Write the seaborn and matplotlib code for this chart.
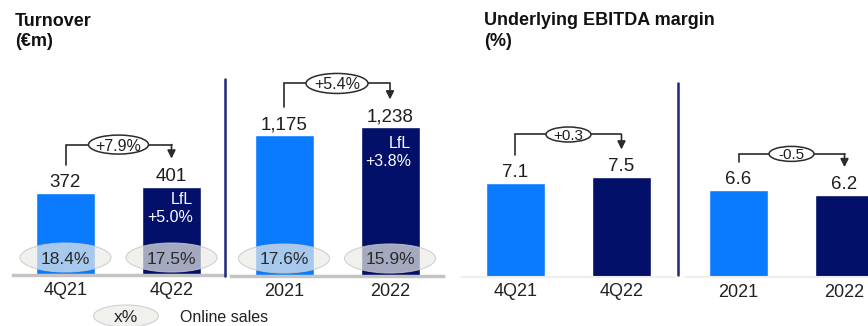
import matplotlib
matplotlib.use("Agg")
import matplotlib.pyplot as plt
import seaborn as sns
import pandas as pd
from matplotlib.patches import Ellipse
from matplotlib.lines import Line2D

# ---------------- data ----------------
quarters = ["4Q21", "4Q22"]
years = ["2021", "2022"]
turnover_q = [372, 401]
turnover_y = [1175, 1238]
online_q = ["18.4%", "17.5%"]
online_y = ["17.6%", "15.9%"]
lfl_q = "+5.0%"
lfl_y = "+3.8%"
growth_turnover_q = "+7.9%"
growth_turnover_y = "+5.4%"
ebitda_q = [7.1, 7.5]
ebitda_y = [6.6, 6.2]
change_ebitda_q = "+0.3"
change_ebitda_y = "-0.5"
legend_symbol = "x%"
legend_label = "Online sales"

LIGHT = "#0a7bff"
NAVY = "#03106a"
TXT = "#1e1e1e"

sns.set_theme(style="white")
plt.rcParams["font.family"] = ["Liberation Sans", "DejaVu Sans"]

W, H = 868, 326
fig = plt.figure(figsize=(W / 100, H / 100), dpi=100)
PX_X = 106.0  # pixels per category step


def px_axes(x0, y0, x1, y1):
    return fig.add_axes([x0 / W, 1 - y1 / H, (x1 - x0) / W, (y1 - y0) / H])


def panel(rect, cats, vals, ytop, fmt, spine_color, spine_lw,
          growth, brk_off, ell_w, ell_h, ell_fs,
          online=None, lfl=None, lfl_offs=(17, 35)):
    x0, y0, x1, y1 = rect
    ax = px_axes(*rect)
    df = pd.DataFrame({"cat": cats, "val": vals})
    sns.barplot(data=df, x="cat", y="val", hue="cat", palette=[LIGHT, NAVY],
                width=59 / PX_X, errorbar=None, legend=False, saturation=1,
                ax=ax, zorder=2)
    ax.set_xlim(-0.5, 1.5)
    ax.set_ylim(0, ytop)
    ppu = (y1 - y0) / ytop
    ax.set_xlabel("")
    ax.set_ylabel("")
    ax.set_yticks([])
    ax.tick_params(axis="x", length=0, labelsize=13, pad=5, labelcolor="#222222")
    for s in ("left", "top", "right"):
        ax.spines[s].set_visible(False)
    ax.spines["bottom"].set_color(spine_color)
    ax.spines["bottom"].set_linewidth(spine_lw)
    ax.patch.set_alpha(0)

    # value labels
    for i, v in enumerate(vals):
        ax.text(i, v + 6 / ppu, fmt(v), ha="center", va="baseline",
                fontsize=13.5, color=TXT, zorder=5)

    # bracket with change
    top = max(vals)
    yb = top + brk_off / ppu
    ax.plot([0, 0, 1], [vals[0] + 28 / ppu, yb, yb], color="#2b2b2b",
            lw=1.2, clip_on=False, zorder=4, solid_joinstyle="miter")
    ax.annotate("", xy=(1, vals[1] + 28 / ppu), xytext=(1, yb),
                arrowprops=dict(arrowstyle="-|>,head_width=0.3,head_length=0.6",
                                color="#2b2b2b", lw=1.2, shrinkA=0, shrinkB=0,
                                mutation_scale=8),
                annotation_clip=False, zorder=4)
    ax.add_patch(Ellipse((0.5, yb), ell_w / PX_X, ell_h / ppu, fc="white",
                         ec="#2b2b2b", lw=1.1, zorder=5, clip_on=False))
    ax.text(0.5, yb, growth, ha="center", va="center_baseline",
            fontsize=ell_fs, color=TXT, zorder=6)

    # online-sales ellipses
    if online is not None:
        for i, t in enumerate(online):
            ax.add_patch(Ellipse((i, 17.5 / ppu), 91 / PX_X, 29 / ppu,
                                 fc=(0.92, 0.92, 0.90, 0.70),
                                 ec=(0.78, 0.78, 0.78, 0.8), lw=0.8,
                                 zorder=3, clip_on=False))
            ax.text(i, 17.5 / ppu, t, ha="center", va="center_baseline",
                    fontsize=12.5, color="#2a2a2a", zorder=4)

    # LfL note inside the dark bar
    if lfl is not None:
        xr = 1 + (59 / PX_X) / 2 - 8 / PX_X
        ax.text(xr, vals[1] - lfl_offs[0] / ppu, "LfL", ha="right",
                va="baseline", fontsize=11.5, color="white", zorder=5)
        ax.text(xr, vals[1] - lfl_offs[1] / ppu, lfl, ha="right",
                va="baseline", fontsize=11.5, color="white", zorder=5)
    return ax


fmt_int = lambda v: f"{v:,}"
fmt_1 = lambda v: f"{v:.1f}"

panel((12.5, 60, 224.5, 275), quarters, turnover_q, 975, fmt_int, "#c4c4c4", 2.5,
      growth_turnover_q, 42, 60, 19, 11.5, online=online_q, lfl=lfl_q,
      lfl_offs=(17, 35))
panel((231, 60, 443, 276), years, turnover_y, 1800, fmt_int, "#c4c4c4", 2.5,
      growth_turnover_y, 44, 62, 20, 11.5, online=online_y, lfl=lfl_y,
      lfl_offs=(21, 39))
panel((462.5, 60, 674.5, 276.5), quarters, ebitda_q, 16.4, fmt_1, "#eeeeee", 1.5,
      change_ebitda_q, 43, 45, 15, 11)
panel((685.5, 60, 897.5, 277), years, ebitda_y, 16.44, fmt_1, "#eeeeee", 1.5,
      change_ebitda_y, 36, 45, 15, 11)

# dividers
fig.add_artist(Line2D([225 / W] * 2, [1 - 79 / H, 1 - 276 / H], color="#1c2580", lw=1.8))
fig.add_artist(Line2D([678 / W] * 2, [1 - 83 / H, 1 - 275 / H], color="#1c2580", lw=1.8))

# titles
fig.text(15 / W, 1 - 26 / H, "Turnover", fontsize=13, fontweight="bold",
         va="baseline", color="#111111")
fig.text(15 / W, 1 - 46 / H, "(€m)", fontsize=13, fontweight="bold",
         va="baseline", color="#111111")
fig.text(484 / W, 1 - 25 / H, "Underlying EBITDA margin", fontsize=13,
         fontweight="bold", va="baseline", color="#111111")
fig.text(484 / W, 1 - 46 / H, "(%)", fontsize=13, fontweight="bold",
         va="baseline", color="#111111")

# legend
fig.add_artist(Ellipse((126 / W, 1 - 316 / H), 65 / W, 22 / H,
                       transform=fig.transFigure, fc=(0.92, 0.92, 0.90, 0.7),
                       ec=(0.78, 0.78, 0.78, 0.8), lw=0.8))
fig.text(126 / W, 1 - 318 / H, legend_symbol, ha="center", va="center",
         fontsize=12.5, color="#222222")
fig.text(180 / W, 1 - 318 / H, legend_label, ha="left", va="center",
         fontsize=11.5, color="#222222")

fig.savefig("out.png", dpi=100)
